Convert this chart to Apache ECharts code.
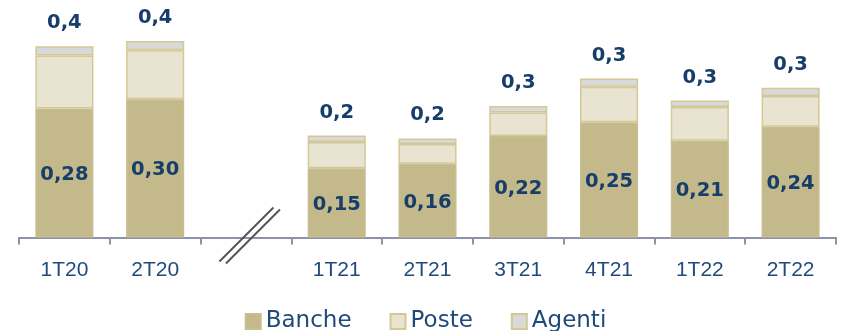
<!DOCTYPE html>
<html>
<head>
<meta charset="utf-8">
<script src="https://cdn.jsdelivr.net/npm/echarts@6/dist/echarts.min.js"></script>
<style>
  html, body { margin: 0; padding: 0; background: #ffffff; }
  #chart { width: 851px; height: 331px; }
</style>
</head>
<body>
<div id="chart"></div>
<script>
// Quarters; the empty slot marks the break between 2020 and 2021
const categories = ['1T20', '2T20', '', '1T21', '2T21', '3T21', '4T21', '1T22', '2T22'];
const banche = [0.28, 0.30, null, 0.15, 0.16, 0.22, 0.25, 0.21, 0.24];
const poste  = [0.115, 0.106, null, 0.057, 0.043, 0.051, 0.077, 0.073, 0.067];
const agenti = [0.02, 0.02, null, 0.014, 0.012, 0.014, 0.018, 0.014, 0.018];

const NAVY = '#173e6b';
const TEXT = '#1f4a7a';
const EDGE = '#d3c896';

function fmt(v, digits) {
  return v.toFixed(digits).replace('.', ',');
}
function total(i) {
  return banche[i] + poste[i] + agenti[i];
}

const chart = echarts.init(document.getElementById('chart'), null, { renderer: 'canvas' });

const option = {
  animation: false,
  backgroundColor: '#ffffff',
  grid: { left: 19, right: 15, top: 7, bottom: 93.5, containLabel: false },
  legend: {
    top: 305,
    left: 'center',
    icon: 'rect',
    itemWidth: 15,
    itemHeight: 15,
    itemGap: 38,
    textStyle: { fontFamily: 'DejaVu Sans', fontSize: 23, color: TEXT },
    data: ['Banche', 'Poste', 'Agenti']
  },
  xAxis: {
    type: 'category',
    data: categories,
    axisLine: { lineStyle: { color: '#8d92a8', width: 2 } },
    axisTick: { show: true, alignWithLabel: false, length: 7, lineStyle: { color: '#8d92a8', width: 2 } },
    axisLabel: { fontFamily: 'Liberation Sans', fontSize: 21, color: TEXT, margin: 22 }
  },
  yAxis: {
    type: 'value',
    min: 0,
    max: 0.5,
    show: false,
    splitLine: { show: false }
  },
  series: [
    {
      name: 'Banche',
      type: 'bar',
      stack: 'tot',
      barWidth: '64%',
      data: banche,
      itemStyle: { color: '#c4b98a', borderColor: '#c9be8f', borderWidth: 1.5 },
      label: {
        show: true,
        position: 'inside',
        offset: [0, 2],
        fontFamily: 'DejaVu Sans',
        fontWeight: 'bold',
        fontSize: 19.5,
        color: NAVY,
        formatter: p => fmt(p.value, 2)
      }
    },
    {
      name: 'Poste',
      type: 'bar',
      stack: 'tot',
      data: poste,
      itemStyle: { color: '#e9e3d1', borderColor: EDGE, borderWidth: 1.5 }
    },
    {
      name: 'Agenti',
      type: 'bar',
      stack: 'tot',
      data: agenti,
      itemStyle: { color: '#d9d9d9', borderColor: EDGE, borderWidth: 1.5 },
      label: {
        show: true,
        position: 'top',
        distance: 13,
        fontFamily: 'DejaVu Sans',
        fontWeight: 'bold',
        fontSize: 19.5,
        color: NAVY,
        formatter: p => fmt(total(p.dataIndex), 1)
      }
    }
  ]
};

chart.setOption(option);

// Axis break mark drawn across the empty slot
const gapIndex = categories.indexOf('');
const c = chart.convertToPixel({ gridIndex: 0 }, [gapIndex, 0]);
const half = 27;
const breakLine = (dx, dy) => ({
  type: 'line',
  shape: { x1: c[0] + dx - half, y1: c[1] + dy + half, x2: c[0] + dx + half, y2: c[1] + dy - half },
  style: { stroke: '#555555', lineWidth: 2 },
  z: 100
});
chart.setOption({ graphic: [breakLine(0.5, -3), breakLine(7, -1)] });
</script>
</body>
</html>
